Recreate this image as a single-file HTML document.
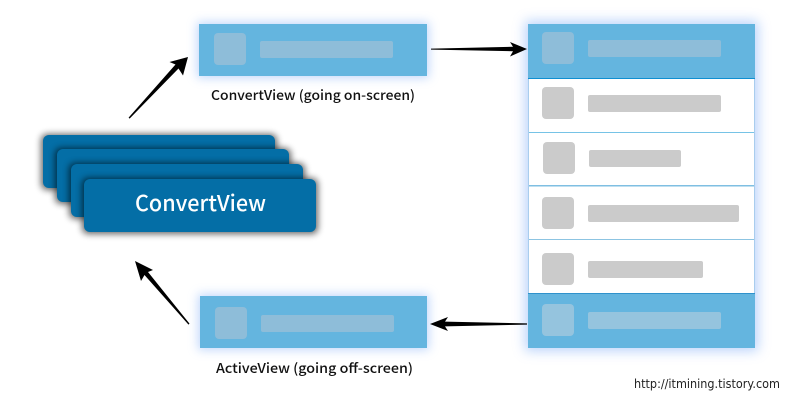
<!DOCTYPE html>
<html><head><meta charset="utf-8"><style>
html,body{margin:0;padding:0;background:#fff}
svg{display:block}
text{font-family:"Noto Sans CJK KR","Liberation Sans",sans-serif}
</style></head><body>
<svg width="800" height="400" viewBox="0 0 800 400" xmlns="http://www.w3.org/2000/svg">
<defs>
<filter id="glow" x="-20%" y="-60%" width="140%" height="220%"><feGaussianBlur stdDeviation="5"/></filter>
<filter id="glow2" x="-20%" y="-10%" width="140%" height="120%"><feGaussianBlur stdDeviation="6"/></filter>
<filter id="sh" x="-15%" y="-40%" width="130%" height="180%"><feGaussianBlur stdDeviation="3.5"/></filter>
</defs>
<rect width="800" height="400" fill="#fff"/>

<!-- stacked cards -->
<rect x="41" y="134" width="236" height="56" rx="6" fill="#000" opacity=".6" filter="url(#sh)"/>
<rect x="43" y="135" width="232" height="53" rx="6" fill="#046ea6"/>
<rect x="55" y="148" width="236" height="56" rx="6" fill="#000" opacity=".6" filter="url(#sh)"/>
<rect x="57" y="149" width="232" height="53" rx="6" fill="#046ea6"/>
<rect x="69" y="163" width="236" height="56" rx="6" fill="#000" opacity=".6" filter="url(#sh)"/>
<rect x="71" y="164" width="232" height="53" rx="6" fill="#046ea6"/>
<rect x="82" y="178" width="236" height="56" rx="6" fill="#000" opacity=".6" filter="url(#sh)"/>
<rect x="84" y="179" width="232" height="53" rx="6" fill="#046ea6"/>
<text x="135" y="211" font-size="22" font-weight="500" fill="#fff" textLength="131" lengthAdjust="spacingAndGlyphs">ConvertView</text>

<!-- top view -->
<rect x="197" y="22" width="232" height="56" fill="#a9c8fa" opacity=".7" filter="url(#glow)"/>
<rect x="199" y="24" width="228" height="52" fill="#64b5df"/>
<rect x="214" y="33" width="32" height="32" rx="4" fill="#8ebdd9"/>
<rect x="260" y="41" width="133" height="17" rx="2" fill="#8ebdd9"/>
<text x="211" y="100" font-size="13.5" font-weight="500" fill="#111" textLength="204" lengthAdjust="spacingAndGlyphs">ConvertView (going on-screen)</text>

<!-- list -->
<rect x="525" y="21" width="233" height="330" fill="#a9c8fa" opacity=".8" filter="url(#glow2)"/>
<rect x="528" y="24" width="227" height="324" fill="#fff"/>
<rect x="528" y="24" width="227" height="54" fill="#64b5df"/>
<rect x="528" y="293" width="227" height="55" fill="#64b5df"/>
<rect x="528" y="78" width="227" height="1" fill="#0f8fd2"/>
<rect x="528" y="132" width="227" height="1" fill="#76c3e6"/>
<rect x="528" y="185" width="227" height="1.5" fill="#7fbfe2"/>
<rect x="528" y="239" width="227" height="1" fill="#8cc4e2"/>
<rect x="528" y="293" width="227" height="1" fill="#2f92cc"/>
<rect x="528" y="79" width="1" height="214" fill="#a9cdee"/>
<rect x="754" y="79" width="1" height="214" fill="#a9cdee"/>

<rect x="542" y="32" width="32" height="32" rx="4" fill="#8ebdd9"/>
<rect x="588" y="40" width="133" height="17" rx="2" fill="#8ebdd9"/>
<rect x="542" y="87" width="32" height="32" rx="4" fill="#cbcbcb"/>
<rect x="588" y="95" width="133" height="17" rx="2" fill="#cbcbcb"/>
<rect x="543" y="142" width="32" height="32" rx="4" fill="#cbcbcb"/>
<rect x="589" y="150" width="92" height="17" rx="2" fill="#cbcbcb"/>
<rect x="542" y="197" width="32" height="32" rx="4" fill="#cbcbcb"/>
<rect x="588" y="205" width="151" height="17" rx="2" fill="#cbcbcb"/>
<rect x="542" y="253" width="32" height="32" rx="4" fill="#cbcbcb"/>
<rect x="588" y="261" width="115" height="17" rx="2" fill="#cbcbcb"/>
<rect x="542" y="304" width="32" height="32" rx="4" fill="#95c4de"/>
<rect x="588" y="312" width="133" height="17" rx="2" fill="#95c4de"/>

<!-- bottom view -->
<rect x="198" y="294" width="231" height="56" fill="#a9c8fa" opacity=".7" filter="url(#glow)"/>
<rect x="200" y="296" width="227" height="52" fill="#64b5df"/>
<rect x="215" y="307" width="32" height="32" rx="4" fill="#8ebdd9"/>
<rect x="261" y="315" width="133" height="17" rx="2" fill="#8ebdd9"/>
<text x="216" y="373" font-size="13.5" font-weight="500" fill="#111" textLength="197" lengthAdjust="spacingAndGlyphs">ActiveView (going off-screen)</text>

<!-- arrows -->
<g fill="#000">
<polygon points="431,48.6 513,46.8 510,42 527,49 510,56.5 513,51.2 431,49.6"/>
<polygon points="527,323.4 445,321.6 448,317 430,324 448,331 445,326.4 527,324.6"/>
<polygon points="128.6,117.6 175.5,64.5 169.5,62 188,57 183,75.5 178.5,68.5 129.6,118.6"/>
<polygon points="189.5,323.6 148,272 153,270 135,261 141,281 144.5,275 188.5,324.6"/>
</g>

<text x="634" y="388" font-size="12" fill="#222" textLength="146" lengthAdjust="spacingAndGlyphs" style="font-family:'DejaVu Sans',sans-serif">http://itmining.tistory.com</text>
</svg>
</body></html>
